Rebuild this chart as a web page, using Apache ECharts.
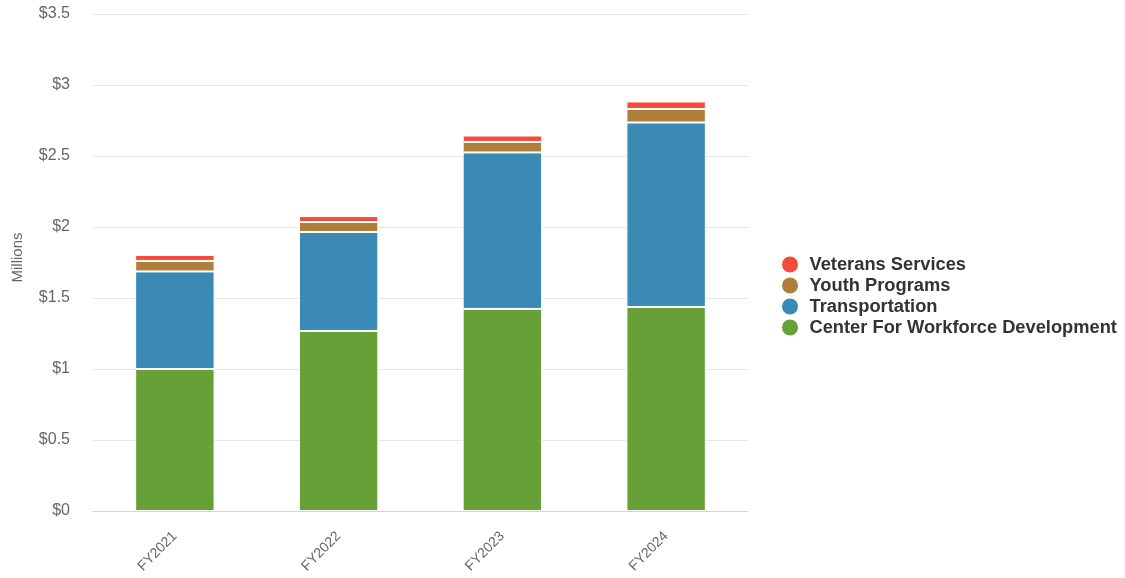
<!DOCTYPE html>
<html>
<head>
<meta charset="utf-8">
<script src="https://cdn.jsdelivr.net/npm/echarts@6/dist/echarts.min.js"></script>
<style>html,body{margin:0;padding:0;background:#fff}#c{width:1125px;height:578px}</style>
</head>
<body>
<div id="c"></div>
<script>
var categories = ['FY2021', 'FY2022', 'FY2023', 'FY2024'];
var centerWorkforce = [1.0, 1.268, 1.423, 1.437];
var transportation = [0.687, 0.697, 1.102, 1.299];
var youthPrograms = [0.074, 0.070, 0.074, 0.095];
var veteransServices = [0.042, 0.042, 0.045, 0.053];
var seriesNames = ['Center For Workforce Development', 'Transportation', 'Youth Programs', 'Veterans Services'];
var legendOrder = ['Veterans Services', 'Youth Programs', 'Transportation', 'Center For Workforce Development'];
var colors = ['#67a037', '#3b8ab6', '#ad7f3a', '#f44b3a'];

var chart = echarts.init(document.getElementById('c'));
var dataSets = [centerWorkforce, transportation, youthPrograms, veteransServices];
var series = dataSets.map(function (d, i) {
  return {
    name: seriesNames[i],
    type: 'bar',
    stack: 'total',
    barWidth: '48.5%',
    data: d,
    itemStyle: { color: colors[i], borderColor: '#ffffff', borderWidth: 1 }
  };
});
chart.setOption({
  animation: false,
  textStyle: { fontFamily: 'Liberation Sans, Arial, sans-serif' },
  grid: { left: 93, right: 377, top: 14, bottom: 67 },
  legend: {
    orient: 'vertical',
    left: 775,
    top: 249.5,
    icon: 'circle',
    itemWidth: 29,
    itemHeight: 18,
    itemGap: 1,
    data: legendOrder,
    textStyle: {
      fontSize: 18.3, lineHeight: 20, fontWeight: 'bold', color: '#333333',
      fontFamily: 'Liberation Sans, Arial, sans-serif'
    }
  },
  xAxis: {
    type: 'category',
    data: categories,
    axisLine: { lineStyle: { color: '#ccd6eb' } },
    axisTick: { show: false },
    axisLabel: { rotate: 45, color: '#666666', fontSize: 14, margin: 23 }
  },
  yAxis: {
    type: 'value',
    min: 0,
    max: 3.5,
    interval: 0.5,
    name: 'Millions',
    nameLocation: 'middle',
    nameGap: 68,
    nameTextStyle: { color: '#666666', fontSize: 15, padding: [0, 0, 0, 10] },
    axisLabel: {
      color: '#666666', fontSize: 16, margin: 23,
      formatter: function (v) { return '$' + v; }
    },
    splitLine: { lineStyle: { color: '#e6e6e6' } }
  },
  series: series
});
</script>
</body>
</html>
